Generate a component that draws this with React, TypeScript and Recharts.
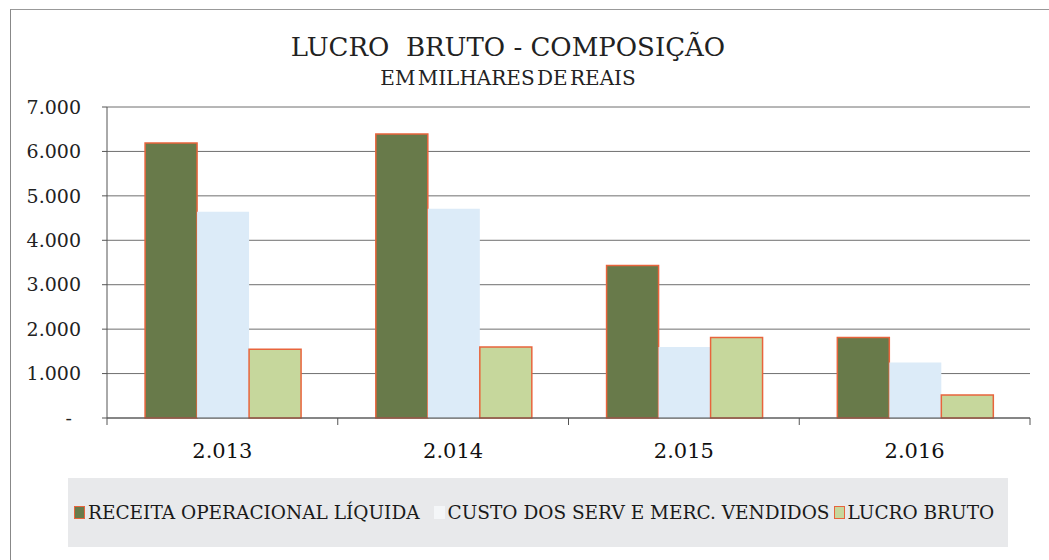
import { BarChart, Bar, XAxis, YAxis, CartesianGrid } from 'recharts';

const years = ['2.013', '2.014', '2.015', '2.016'];
const receita = [6190, 6390, 3430, 1810];
const custo = [4640, 4710, 1600, 1250];
const lucro = [1550, 1600, 1810, 520];
const yTicks = [0, 1000, 2000, 3000, 4000, 5000, 6000, 7000];

const data = years.map((year, i) => ({
  year,
  receita: receita[i],
  custo: custo[i],
  lucro: lucro[i],
}));

const FONT = '"DejaVu Serif", "Times New Roman", serif';
const EDGE = '#e8643c';
const AXIS = '#555';

const seriesInfo = [
  { key: 'receita', label: 'RECEITA OPERACIONAL LÍQUIDA', fill: '#687a4a', stroke: EDGE, mark: '#687a4a' },
  { key: 'custo', label: 'CUSTO DOS SERV E MERC. VENDIDOS', fill: '#dcebf8', stroke: 'none', mark: '#f4f6f8' },
  { key: 'lucro', label: 'LUCRO BRUTO', fill: '#c6d79c', stroke: EDGE, mark: '#c6d79c' },
];

function fmt(v: number) {
  if (v === 0) return '-';
  return String(v).replace(/\B(?=(\d{3})+(?!\d))/g, '.');
}

function YTick({ x, y, payload }: any) {
  const zero = payload.value === 0;
  return (
    <text x={x} y={y} dx={zero ? -9 : 0} dy="0.35em" textAnchor="end" fill="#222" fontSize={19} fontFamily={FONT}>
      {fmt(payload.value)}
    </text>
  );
}

// category label plus the small tick marks that sit between categories
function XTick({ x, y, payload, index, width, visibleTicksCount }: any) {
  const band = width / (visibleTicksCount || years.length);
  const axisY = y - 25;
  return (
    <g>
      {index === 0 && <line x1={x - band / 2} x2={x - band / 2} y1={axisY} y2={axisY + 7} stroke={AXIS} />}
      <line x1={x + band / 2} x2={x + band / 2} y1={axisY} y2={axisY + 7} stroke={AXIS} />
      <text x={x} y={y} dy="0.71em" textAnchor="middle" fill="#111" fontSize={21} fontFamily={FONT}>
        {payload.value}
      </text>
    </g>
  );
}

function LegendBox() {
  return (
    <div
      style={{
        position: 'absolute',
        left: 68,
        top: 478,
        width: 940,
        height: 69,
        background: '#e8e9eb',
        display: 'flex',
        alignItems: 'center',
        paddingLeft: 6,
        boxSizing: 'border-box',
        fontFamily: FONT,
        fontSize: 18.5,
        color: '#1a1a1a',
        whiteSpace: 'nowrap',
      }}
    >
      {seriesInfo.map((s, i) => (
        <span key={s.key} style={{ display: 'inline-flex', alignItems: 'center', marginRight: i === 0 ? 14 : 4 }}>
          <span
            style={{
              display: 'inline-block',
              width: 9,
              height: 11,
              background: s.mark,
              border: `1.5px solid ${s.stroke === 'none' ? '#f4f6f8' : s.stroke}`,
              marginRight: 3,
            }}
          />
          {s.label}
        </span>
      ))}
    </div>
  );
}

export default function App() {
  return (
    <div style={{ position: 'relative', width: 1049, height: 560, background: '#fff', overflow: 'hidden' }}>
      <style>{'body{margin:0}'}</style>
      <div
        style={{
          position: 'absolute',
          left: 10,
          top: 9,
          width: 1039,
          height: 551,
          borderLeft: '1px solid #888',
          borderTop: '1px solid #999',
        }}
      />
      <div
        style={{
          position: 'absolute',
          left: 0,
          width: 1016,
          top: 34,
          textAlign: 'center',
          fontFamily: FONT,
          color: '#222',
          lineHeight: 1,
        }}
      >
        <div style={{ fontSize: 26, whiteSpace: 'pre' }}>LUCRO  BRUTO - COMPOSIÇÃO</div>
        <div style={{ fontSize: 20, marginTop: 8, wordSpacing: -4 }}>EM MILHARES DE REAIS</div>
      </div>
      <BarChart
        width={1049}
        height={560}
        data={data}
        margin={{ top: 107, right: 19, bottom: 62, left: 0 }}
        barCategoryGap="16.5%"
        barGap={0}
        style={{ position: 'absolute', left: 0, top: 0 }}
      >
        <CartesianGrid vertical={false} stroke="#6f6f6f" strokeWidth={1} />
        <XAxis
          dataKey="year"
          tick={<XTick />}
          tickLine={false}
          axisLine={{ stroke: AXIS }}
          tickSize={0}
          tickMargin={25}
          height={80}
          interval={0}
        />
        <YAxis
          domain={[0, 7000]}
          ticks={yTicks}
          tick={<YTick />}
          axisLine={{ stroke: AXIS }}
          tickLine={{ stroke: AXIS }}
          tickSize={5}
          tickMargin={21}
          width={107}
        />
        {seriesInfo.map((s) => (
          <Bar
            key={s.key}
            dataKey={s.key}
            name={s.label}
            fill={s.fill}
            stroke={s.stroke}
            strokeWidth={1.5}
            isAnimationActive={false}
          />
        ))}
      </BarChart>
      <LegendBox />
    </div>
  );
}
